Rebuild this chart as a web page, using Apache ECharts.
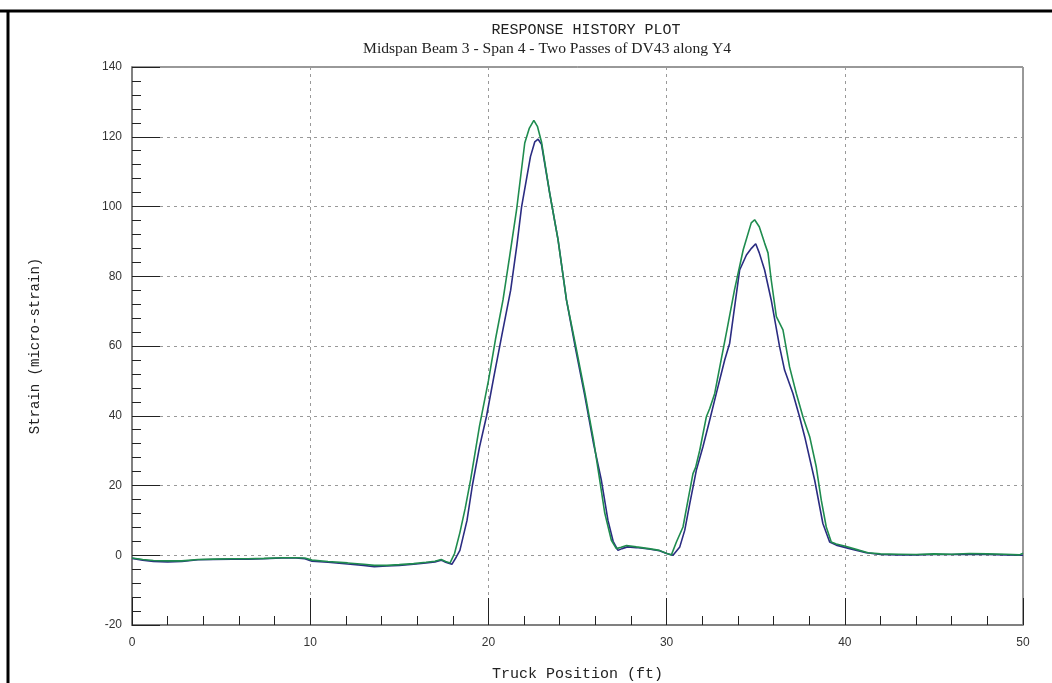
<!DOCTYPE html>
<html>
<head>
<meta charset="utf-8">
<title>Response History Plot</title>
<script src="https://cdn.jsdelivr.net/npm/echarts@6/dist/echarts.min.js"></script>
<style>
  html, body { margin: 0; padding: 0; background: #ffffff; }
  #chart { width: 1052px; height: 683px; }
</style>
</head>
<body>
<div id="chart"></div>
<script>
// Axis ticks
const xTicks = [0, 10, 20, 30, 40, 50];
const yTicks = [-20, 0, 20, 40, 60, 80, 100, 120, 140];

// Pass A (green): truck position (ft) and strain (micro-strain)
const passAPos = [0, 0.6, 1.2, 2.0, 2.8, 3.7, 4.6, 5.6, 6.5, 7.4, 8.4, 9.2, 9.7, 10.1, 11.0, 12.1, 13.0, 13.6, 14.3, 15.0,
  15.8, 16.5, 17.0, 17.35, 17.6, 17.85, 18.1, 18.4, 18.7, 19.0, 19.5, 20.0, 20.4, 20.82, 21.2, 21.58, 22.04, 22.3, 22.55, 22.75,
  22.98, 23.44, 23.91, 24.38, 24.9, 25.4, 25.9, 26.25, 26.53, 26.9, 27.18, 27.45, 27.75, 28.3, 29.0, 29.6, 29.98, 30.27, 30.55, 30.92,
  31.2, 31.48, 31.63, 31.86, 32.23, 32.42, 32.7, 33.06, 33.4, 33.81, 34.3, 34.75, 34.94, 35.2, 35.5, 35.69, 35.87, 36.16, 36.53, 36.9,
  37.28, 37.65, 38.03, 38.4, 38.68, 38.96, 39.24, 39.52, 40.04, 40.83, 41.3, 42, 43, 44, 45, 46, 47, 48, 49, 49.8, 50];
const passAStrain = [-0.8, -1.2, -1.5, -1.6, -1.6, -1.2, -1.1, -1.0, -1.0, -0.9, -0.7, -0.7, -0.8, -1.4, -1.8, -2.2, -2.6, -2.9, -2.9, -2.7,
  -2.4, -2.0, -1.7, -1.2, -1.8, -2.2, 0.5, 6.5, 13.5, 21.6, 37, 50, 62, 73.2, 86, 99, 118.2, 122.5, 124.7, 123,
  118.5, 103.8, 90.4, 73.2, 60, 47, 33, 21.5, 12.1, 4.3, 1.9, 2.3, 2.8, 2.4, 1.9, 1.4, 0.6, 0.1, 3.8, 8.1,
  15.8, 23.4, 25.2, 30.1, 39.7, 42.1, 46.4, 56, 65, 76.1, 87.6, 95.3, 96.2, 94.2, 89.5, 86.7, 79, 68.4, 64.6, 54,
  46.4, 39.7, 34, 25.3, 15.8, 8.1, 3.8, 3.2, 2.6, 1.4, 0.7, 0.4, 0.3, 0.2, 0.4, 0.3, 0.5, 0.4, 0.3, 0.1, 0.6];

// Pass B (navy): truck position (ft) and strain (micro-strain)
const passBPos = [0, 0.6, 1.2, 2.0, 2.8, 3.7, 4.6, 5.6, 6.5, 7.4, 8.4, 9.2, 9.7, 10.1, 11.0, 12.1, 13.0, 13.6, 14.3, 15.0,
  15.8, 16.5, 17.0, 17.35, 17.6, 17.95, 18.2, 18.4, 18.8, 19.1, 19.5, 19.9, 20.3, 20.75, 21.25, 21.6, 21.86, 22.36, 22.6, 22.79, 22.98,
  23.44, 23.91, 24.38, 24.9, 25.4, 25.9, 26.34, 26.71, 27.0, 27.27, 27.5, 27.8, 28.3, 29.0, 29.6, 30.0, 30.36, 30.74, 31.02, 31.3,
  31.67, 32.04, 32.42, 32.79, 33.26, 33.54, 34.1, 34.48, 34.76, 35.0, 35.2, 35.5, 35.87, 36.34, 36.62, 37.09, 37.46, 37.75, 38.31, 38.77,
  39.15, 39.52, 40.27, 41.2, 42, 43, 44, 45, 46, 47, 48, 49, 50];
const passBStrain = [-0.9, -1.4, -1.8, -1.9, -1.8, -1.3, -1.2, -1.1, -1.1, -1.0, -0.8, -0.8, -1.0, -1.7, -2.0, -2.5, -2.9, -3.3, -3.1, -2.9,
  -2.6, -2.2, -1.9, -1.4, -2.0, -2.6, -0.5, 1.4, 10, 20, 31, 40, 51, 63, 76, 89, 99.8, 114.3, 118.5, 119.3, 117.8,
  103.8, 90.4, 73.2, 59, 46, 32, 21.5, 10.0, 4, 1.4, 1.9, 2.4, 2.2, 1.8, 1.3, 0.5, 0, 2.4, 7.2, 14.8,
  24.4, 31.1, 38.8, 46.4, 56, 60.8, 81.8, 86.1, 88, 89.3, 86.7, 81.8, 73.2, 59.8, 53.1, 46.4, 39.7, 34, 21.5, 9.1,
  3.8, 2.9, 1.9, 0.7, 0.2, 0.1, 0.1, 0.2, 0.2, 0.3, 0.2, 0.1, 0];

const titleText = 'RESPONSE HISTORY PLOT';
const subtitleText = 'Midspan Beam 3 - Span 4 - Two Passes of DV43 along Y4';
const xName = 'Truck Position (ft)';
const yName = 'Strain (micro-strain)';

const pairs = (xs, ys) => xs.map((x, i) => [x, ys[i]]);

const chart = echarts.init(document.getElementById('chart'), null, { renderer: 'canvas' });

const mono = 'Liberation Mono, DejaVu Sans Mono, monospace';
const serif = 'Liberation Serif, DejaVu Serif, serif';
const sans = 'Liberation Sans, Arial, sans-serif';

chart.setOption({
  animation: false,
  backgroundColor: '#ffffff',
  title: [
    {
      text: titleText,
      left: 581, top: 18, textAlign: 'center',
      textStyle: { fontFamily: mono, fontSize: 15, fontWeight: 'normal', color: '#222' }
    },
    {
      text: subtitleText,
      left: 542, top: 36, textAlign: 'center',
      textStyle: { fontFamily: serif, fontSize: 15.6, fontWeight: 'normal', color: '#222' }
    }
  ],
  graphic: [
    { type: 'line', shape: { x1: 0, y1: 11, x2: 1052, y2: 11 }, style: { stroke: '#000', lineWidth: 3 } },
    { type: 'line', shape: { x1: 8, y1: 11, x2: 8, y2: 683 }, style: { stroke: '#000', lineWidth: 3 } }
  ],
  grid: {
    left: 132, top: 67, width: 891, height: 558,
    outerBoundsMode: 'none', containLabel: false,
    show: true, borderColor: '#333', borderWidth: 1, backgroundColor: 'transparent'
  },
  xAxis: {
    type: 'value',
    min: xTicks[0], max: xTicks[xTicks.length - 1], interval: 10,
    name: xName, nameLocation: 'middle', nameGap: 42,
    nameTextStyle: { fontFamily: mono, fontSize: 15, color: '#222' },
    axisLine: { show: true, onZero: false, lineStyle: { color: '#808080', width: 2 } },
    axisTick: { show: true, inside: true, length: 27, lineStyle: { color: '#222', width: 1 } },
    minorTick: { show: true, splitNumber: 5, length: 9, lineStyle: { color: '#222', width: 1 } },
    axisLabel: { fontFamily: sans, fontSize: 12, color: '#333', margin: 12 },
    splitLine: { show: true, lineStyle: { color: '#999', type: [3, 4], width: 1 } }
  },
  yAxis: {
    type: 'value',
    min: yTicks[0], max: yTicks[yTicks.length - 1], interval: 20,
    name: yName, nameLocation: 'middle', nameGap: 90, nameRotate: 90,
    nameTextStyle: { fontFamily: mono, fontSize: 14, color: '#222' },
    axisLine: { show: true, onZero: false, lineStyle: { color: '#808080', width: 2 } },
    axisTick: { show: true, inside: true, length: 28, lineStyle: { color: '#222', width: 1 } },
    minorTick: { show: true, splitNumber: 5, length: 9, lineStyle: { color: '#222', width: 1 } },
    axisLabel: { fontFamily: sans, fontSize: 12, color: '#333', margin: 10 },
    splitLine: { show: true, lineStyle: { color: '#999', type: [3, 4], width: 1 } }
  },
  series: [
    {
      name: 'Pass B', type: 'line', data: pairs(passBPos, passBStrain),
      showSymbol: false, smooth: false,
      lineStyle: { color: '#2b2c82', width: 1.6 }, z: 3
    },
    {
      name: 'Pass A', type: 'line', data: pairs(passAPos, passAStrain),
      showSymbol: false, smooth: false,
      lineStyle: { color: '#1f8c4f', width: 1.6 }, z: 4
    }
  ]
});
</script>
</body>
</html>
